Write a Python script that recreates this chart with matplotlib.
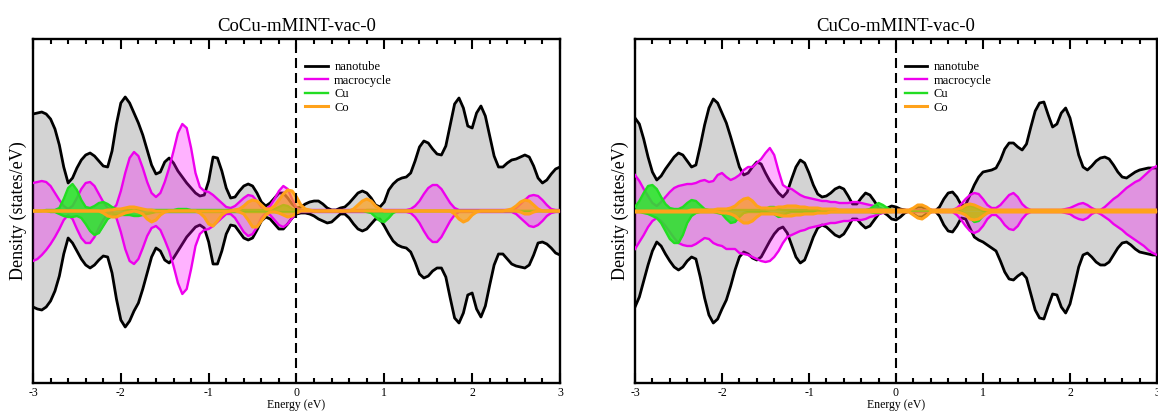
#python3 plot.py
#spin-resolved PDOS of the two mMINT complexes (up > 0, down < 0)

import numpy as np
import matplotlib
matplotlib.use('Agg')
import matplotlib.pyplot as plt

#===================== Data (0.05 eV grid) =====================
energy = [round(-3.0 + 0.05*i, 2) for i in range(121)]

titles = ["CoCu-mMINT-vac-0", "CuCo-mMINT-vac-0"]
labels = ["nanotube", "macrocycle", "Cu", "Co"]

# ---- CoCu ----
cocu_nt_up = [9.7, 9.8, 9.9, 9.7, 9.2, 8.2, 6.6, 4.4, 2.8, 3.3,
              4.3, 5.1, 5.6, 5.8, 5.5, 5.0, 4.5, 4.4, 6.0, 8.7,
              10.8, 11.4, 10.8, 9.8, 8.8, 7.6, 6.1, 4.6, 3.7, 3.9,
              4.9, 5.3, 4.8, 4.0, 3.4, 2.8, 2.3, 1.8, 1.5, 1.6,
              3.0, 5.4, 5.3, 4.0, 2.3, 1.3, 1.4, 2.0, 2.5, 2.7,
              2.5, 1.8, 0.9, 0.5, 0.8, 1.3, 1.8, 1.8, 1.3, 0.7,
              0.3, 0.4, 0.7, 0.9, 1.0, 1.0, 0.7, 0.3, 0.1, 0.1,
              0.3, 0.4, 0.8, 1.3, 1.8, 2.0, 1.8, 1.3, 0.6, 0.4,
              0.9, 2.1, 2.7, 3.1, 3.3, 3.4, 3.8, 5.0, 6.4, 7.0,
              6.8, 6.2, 5.7, 5.6, 6.5, 8.6, 10.7, 11.3, 10.3, 8.5,
              8.3, 9.8, 10.5, 9.5, 7.5, 5.5, 4.4, 4.4, 4.8, 5.1,
              5.2, 5.4, 5.6, 5.4, 4.5, 3.3, 2.8, 3.1, 3.7, 4.2,
              4.4]
cocu_nt_dn = [-9.6, -9.8, -9.9, -9.6, -9.0, -8.0, -6.5, -4.3, -2.7, -3.2,
              -4.0, -4.8, -5.4, -5.7, -5.4, -4.9, -4.5, -4.6, -6.2, -8.8,
              -10.9, -11.6, -11.0, -10.0, -9.2, -7.8, -6.2, -4.6, -3.7, -4.0,
              -4.9, -5.2, -4.7, -4.0, -3.3, -2.6, -2.1, -1.6, -1.4, -1.7,
              -3.1, -5.3, -5.3, -4.0, -2.3, -1.4, -1.5, -2.1, -2.7, -2.9,
              -2.7, -1.9, -1.0, -0.6, -0.8, -1.3, -1.8, -1.8, -1.3, -0.7,
              -0.3, -0.2, -0.2, -0.3, -0.5, -0.8, -1.0, -1.2, -1.1, -0.7,
              -0.3, -0.3, -0.7, -1.3, -1.8, -2.0, -1.8, -1.3, -0.8, -0.8,
              -1.5, -2.3, -3.0, -3.4, -3.6, -3.7, -4.1, -5.1, -6.3, -6.7,
              -6.5, -6.0, -5.7, -5.7, -6.6, -8.7, -10.7, -11.2, -10.2, -8.4,
              -8.2, -9.8, -10.6, -9.5, -7.4, -5.4, -4.3, -4.3, -4.8, -5.3,
              -5.5, -5.6, -5.7, -5.4, -4.4, -3.2, -3.1, -3.3, -3.7, -4.2,
              -4.4]
cocu_mac_up = [2.8, 2.9, 3.0, 2.9, 2.5, 1.8, 1.1, 0.5, 0.2, 0.5,
               1.3, 2.2, 2.8, 2.9, 2.5, 1.7, 0.9, 0.3, 0.1, 0.6,
               2.0, 3.8, 5.3, 5.9, 5.5, 4.3, 2.9, 1.8, 1.4, 1.8,
               2.9, 4.3, 6.0, 7.8, 8.7, 8.3, 6.3, 3.8, 2.4, 2.0,
               1.9, 1.6, 1.2, 0.8, 0.4, 0.3, 0.5, 0.9, 1.3, 1.6,
               1.5, 1.0, 0.4, 0.2, 0.5, 1.2, 2.0, 2.5, 2.2, 1.2,
               0.3, 0.1, 0.1, 0.1, 0.1, 0.1, 0.1, 0.1, 0.1, 0.1,
               0.1, 0.1, 0.1, 0.1, 0.1, 0.1, 0.1, 0.1, 0.1, 0.1,
               0.1, 0.1, 0.1, 0.1, 0.1, 0.1, 0.2, 0.5, 1.0, 1.7,
               2.3, 2.6, 2.6, 2.2, 1.5, 0.8, 0.3, 0.1, 0.1, 0.1,
               0.1, 0.1, 0.1, 0.1, 0.1, 0.1, 0.1, 0.1, 0.1, 0.1,
               0.3, 0.7, 1.1, 1.5, 1.6, 1.5, 1.1, 0.6, 0.2, 0.1,
               0.1]
cocu_mac_dn = [-5.0, -4.8, -4.4, -3.9, -3.3, -2.6, -1.8, -0.9, -0.4, -0.8,
               -1.8, -2.7, -3.2, -3.2, -2.6, -1.7, -0.9, -0.3, -0.1, -0.7,
               -2.1, -3.8, -5.0, -5.3, -4.8, -3.7, -2.5, -1.7, -1.5, -1.9,
               -2.9, -4.0, -5.5, -7.2, -8.3, -7.8, -5.8, -3.5, -2.3, -1.9,
               -1.8, -1.5, -1.1, -0.7, -0.3, -0.3, -0.7, -1.4, -2.1, -2.5,
               -2.3, -1.6, -0.7, -0.2, -0.4, -0.9, -1.4, -1.6, -1.3, -0.7,
               -0.2, -0.1, -0.1, -0.1, -0.1, -0.1, -0.1, -0.1, -0.1, -0.1,
               -0.1, -0.1, -0.1, -0.1, -0.1, -0.1, -0.1, -0.1, -0.1, -0.1,
               -0.1, -0.1, -0.1, -0.1, -0.1, -0.1, -0.2, -0.6, -1.2, -2.0,
               -2.7, -3.1, -3.1, -2.6, -1.8, -1.0, -0.4, -0.1, -0.1, -0.1,
               -0.1, -0.1, -0.1, -0.1, -0.1, -0.1, -0.1, -0.1, -0.1, -0.1,
               -0.3, -0.7, -1.1, -1.5, -1.6, -1.4, -1.0, -0.5, -0.2, -0.1,
               -0.1]
cocu_cu_up = [0.0, 0.0, 0.0, 0.1, 0.1, 0.1, 0.3, 1.2, 2.3, 2.7,
              2.1, 1.1, 0.4, 0.3, 0.5, 0.8, 0.9, 0.7, 0.4, 0.2,
              0.1, 0.1, 0.1, 0.1, 0.1, 0.1, 0.1, 0.1, 0.1, 0.1,
              0.1, 0.1, 0.1, 0.2, 0.2, 0.2, 0.1, 0.1, 0.1, 0.1,
              0.1, 0.1, 0.1, 0.1, 0.1, 0.1, 0.1, 0.1, 0.1, 0.1,
              0.1, 0.1, 0.1, 0.1, 0.1, 0.2, 0.4, 0.6, 0.5, 0.2,
              0.1, 0.0, 0.0, 0.0, 0.0, 0.0, 0.0, 0.0, 0.0, 0.0,
              0.0, 0.0, 0.0, 0.0, 0.0, 0.0, 0.1, 0.1, 0.1, 0.0,
              0.0, 0.0, 0.0, 0.0, 0.0, 0.0, 0.0, 0.0, 0.0, 0.0,
              0.0, 0.0, 0.0, 0.0, 0.0, 0.0, 0.0, 0.0, 0.0, 0.0,
              0.0, 0.0, 0.0, 0.0, 0.0, 0.0, 0.0, 0.0, 0.0, 0.0,
              0.0, 0.0, 0.0, 0.0, 0.0, 0.0, 0.0, 0.0, 0.0, 0.0,
              0.0]
cocu_cu_dn = [0.0, 0.0, 0.0, 0.0, -0.1, -0.1, -0.3, -0.5, -0.6, -0.6,
              -0.5, -0.7, -1.3, -2.0, -2.4, -2.2, -1.5, -0.8, -0.5, -0.4,
              -0.4, -0.4, -0.4, -0.5, -0.5, -0.4, -0.3, -0.2, -0.1, -0.1,
              -0.1, -0.1, -0.1, -0.1, -0.1, -0.1, -0.1, -0.1, -0.1, -0.1,
              -0.1, -0.1, -0.1, -0.1, -0.1, -0.1, -0.1, -0.1, -0.1, -0.1,
              -0.1, -0.1, -0.1, -0.1, -0.1, -0.1, -0.1, -0.1, -0.1, -0.1,
              -0.1, 0.0, 0.0, 0.0, 0.0, 0.0, 0.0, 0.0, 0.0, 0.0,
              0.0, 0.0, 0.0, 0.0, 0.0, 0.0, -0.1, -0.2, -0.6, -1.0,
              -1.1, -0.7, -0.2, 0.0, 0.0, 0.0, 0.0, 0.0, 0.0, 0.0,
              0.0, 0.0, 0.0, 0.0, 0.0, 0.0, 0.0, 0.0, 0.0, 0.0,
              0.0, 0.0, 0.0, 0.0, 0.0, 0.0, 0.0, 0.0, 0.0, 0.0,
              0.0, 0.0, 0.0, 0.0, 0.0, 0.0, 0.0, 0.0, 0.0, 0.0,
              0.0]
cocu_co_up = [0.0, 0.0, 0.0, 0.0, 0.0, 0.0, 0.0, 0.0, 0.0, 0.0,
              0.0, 0.0, 0.0, 0.0, 0.0, 0.0, 0.0, 0.1, 0.1, 0.2,
              0.2, 0.3, 0.4, 0.4, 0.3, 0.2, 0.1, 0.1, 0.0, 0.0,
              0.0, 0.0, 0.0, 0.0, 0.0, 0.0, 0.0, 0.0, 0.0, 0.0,
              0.0, 0.0, 0.0, 0.0, 0.0, 0.0, 0.1, 0.2, 0.5, 0.9,
              1.1, 1.0, 0.6, 0.2, 0.2, 0.5, 1.1, 1.7, 2.1, 2.0,
              1.4, 0.6, 0.2, 0.1, 0.0, 0.0, 0.0, 0.0, 0.0, 0.0,
              0.0, 0.0, 0.0, 0.2, 0.6, 1.0, 1.2, 1.0, 0.5, 0.2,
              0.0, 0.0, 0.0, 0.0, 0.0, 0.0, 0.0, 0.0, 0.0, 0.0,
              0.0, 0.0, 0.0, 0.0, 0.0, 0.0, 0.0, 0.0, 0.0, 0.0,
              0.0, 0.0, 0.0, 0.0, 0.0, 0.0, 0.0, 0.0, 0.1, 0.2,
              0.5, 0.9, 1.1, 1.0, 0.6, 0.2, 0.0, 0.0, 0.0, 0.0,
              0.0]
cocu_co_dn = [0.0, 0.0, 0.0, 0.0, 0.0, 0.0, 0.0, 0.0, 0.0, 0.0,
              0.0, 0.0, 0.0, 0.0, 0.0, 0.0, -0.2, -0.5, -0.6, -0.6,
              -0.4, -0.2, -0.1, 0.0, -0.1, -0.3, -0.8, -1.1, -0.9, -0.4,
              -0.1, 0.0, 0.0, 0.0, 0.0, 0.0, 0.0, 0.0, -0.2, -0.6,
              -1.3, -1.5, -1.0, -0.4, -0.1, 0.0, 0.0, -0.1, -0.3, -0.9,
              -1.6, -1.6, -1.0, -0.4, -0.1, -0.1, -0.2, -0.4, -0.6, -0.5,
              -0.2, 0.0, 0.0, 0.0, 0.0, 0.0, 0.0, 0.0, 0.0, 0.0,
              0.0, 0.0, 0.0, 0.0, 0.0, 0.0, 0.0, 0.0, 0.0, 0.0,
              0.0, 0.0, 0.0, 0.0, 0.0, 0.0, 0.0, 0.0, 0.0, 0.0,
              0.0, 0.0, 0.0, 0.0, 0.0, 0.0, -0.3, -0.8, -1.1, -0.9,
              -0.4, -0.1, 0.0, 0.0, 0.0, 0.0, 0.0, 0.0, 0.0, 0.0,
              0.0, -0.1, -0.3, -0.3, -0.1, 0.0, 0.0, 0.0, 0.0, 0.0,
              0.0]

# ---- CuCo ----
cuco_nt_up = [9.3, 8.7, 7.2, 5.4, 3.9, 3.1, 3.5, 4.2, 4.8, 5.4,
              5.8, 5.6, 5.0, 4.4, 4.6, 6.5, 8.6, 10.3, 11.2, 10.8,
              9.8, 8.8, 7.4, 5.9, 4.4, 3.6, 3.8, 4.4, 4.9, 4.7,
              3.8, 3.0, 2.4, 1.8, 1.4, 1.9, 3.2, 4.4, 5.1, 4.8,
              3.8, 2.6, 1.7, 1.4, 1.5, 1.8, 2.2, 2.4, 2.2, 1.5,
              0.7, 0.7, 1.3, 1.8, 1.6, 1.0, 0.3, 0.1, 0.3, 0.5,
              0.4, 0.2, 0.1, 0.0, 0.2, 0.4, 0.4, 0.2, 0.1, 0.0,
              0.4, 1.2, 1.8, 1.9, 1.4, 0.6, 0.6, 1.6, 2.6, 3.4,
              3.9, 4.0, 4.1, 4.3, 5.1, 6.2, 6.8, 6.8, 6.4, 6.1,
              6.7, 8.4, 10.0, 10.8, 10.9, 9.6, 8.4, 8.7, 9.8, 10.3,
              9.3, 7.5, 5.6, 4.4, 4.1, 4.5, 5.0, 5.3, 5.4, 5.2,
              4.6, 3.9, 3.4, 3.3, 3.6, 3.9, 4.1, 4.2, 4.3, 4.3,
              4.3]
cuco_nt_dn = [-9.6, -8.6, -7.0, -5.4, -4.0, -3.1, -3.5, -4.3, -5.0, -5.6,
              -5.9, -5.6, -5.0, -4.6, -4.8, -6.6, -8.7, -10.4, -11.2, -10.8,
              -9.8, -8.9, -7.5, -5.9, -4.6, -4.1, -4.3, -4.7, -4.9, -4.6,
              -3.8, -3.0, -2.3, -1.8, -1.6, -2.2, -3.4, -4.6, -5.2, -4.9,
              -3.8, -2.6, -1.7, -1.4, -1.6, -2.0, -2.4, -2.6, -2.3, -1.6,
              -0.8, -0.8, -1.3, -1.7, -1.5, -0.9, -0.3, -0.1, -0.4, -0.8,
              -0.9, -0.6, -0.2, 0.0, -0.3, -0.6, -0.6, -0.3, -0.1, 0.0,
              -0.5, -1.4, -2.0, -2.1, -1.5, -0.7, -0.8, -1.7, -2.6, -2.9,
              -3.1, -3.4, -3.7, -4.0, -5.0, -6.1, -6.8, -6.9, -6.5, -6.2,
              -6.7, -8.3, -9.9, -10.7, -10.8, -9.5, -8.3, -8.4, -9.6, -10.2,
              -9.3, -7.5, -5.6, -4.4, -4.2, -4.6, -5.1, -5.4, -5.4, -5.1,
              -4.4, -3.7, -3.2, -3.1, -3.4, -3.8, -4.1, -4.2, -4.3, -4.4,
              -4.4]
cuco_mac_up = [3.6, 3.0, 2.2, 1.5, 0.8, 0.5, 0.9, 1.4, 1.9, 2.3,
               2.5, 2.6, 2.7, 2.7, 2.8, 3.0, 3.1, 2.9, 3.0, 3.6,
               3.8, 3.4, 3.1, 3.3, 3.6, 4.1, 4.4, 4.4, 4.8, 5.2,
               5.8, 6.3, 5.6, 4.0, 2.6, 2.3, 2.2, 1.9, 1.6, 1.4,
               1.3, 1.2, 1.1, 1.0, 1.0, 0.9, 0.9, 0.8, 0.8, 0.8,
               0.9, 0.9, 0.8, 0.7, 0.6, 0.5, 0.3, 0.2, 0.1, 0.1,
               0.1, 0.1, 0.1, 0.1, 0.1, 0.1, 0.1, 0.1, 0.1, 0.1,
               0.1, 0.1, 0.1, 0.1, 0.3, 0.7, 1.2, 1.6, 1.8, 1.7,
               1.2, 0.6, 0.3, 0.3, 0.6, 1.1, 1.6, 1.8, 1.4, 0.7,
               0.3, 0.1, 0.1, 0.1, 0.1, 0.1, 0.1, 0.1, 0.1, 0.2,
               0.3, 0.5, 0.7, 0.8, 0.6, 0.3, 0.1, 0.1, 0.4, 0.8,
               1.2, 1.5, 1.9, 2.3, 2.6, 2.9, 3.1, 3.5, 3.9, 4.3,
               4.5]
cuco_mac_dn = [-3.8, -3.1, -2.4, -1.6, -1.0, -0.7, -1.0, -1.5, -2.1, -2.7,
               -3.2, -3.4, -3.5, -3.5, -3.3, -3.0, -2.7, -2.8, -3.2, -3.4,
               -3.5, -3.8, -3.8, -3.8, -4.2, -4.3, -4.4, -4.6, -4.8, -5.0,
               -5.1, -5.0, -4.6, -4.0, -3.2, -2.6, -2.4, -2.2, -2.0, -1.9,
               -1.7, -1.6, -1.5, -1.4, -1.3, -1.2, -1.2, -1.1, -1.0, -1.0,
               -0.9, -0.9, -0.9, -0.8, -0.6, -0.5, -0.3, -0.2, -0.1, -0.1,
               -0.1, -0.1, -0.1, -0.1, -0.1, -0.1, -0.1, -0.1, -0.1, -0.1,
               -0.1, -0.1, -0.1, -0.1, -0.4, -0.9, -1.5, -2.0, -2.2, -2.0,
               -1.5, -0.8, -0.4, -0.4, -0.8, -1.4, -1.8, -1.9, -1.5, -0.8,
               -0.3, -0.1, -0.1, -0.1, -0.1, -0.1, -0.1, -0.1, -0.1, -0.2,
               -0.3, -0.6, -0.8, -0.9, -0.7, -0.3, -0.1, -0.3, -0.6, -0.9,
               -1.3, -1.6, -1.9, -2.3, -2.6, -2.9, -3.2, -3.5, -3.9, -4.2,
               -4.4]
cuco_cu_up = [0.4, 1.0, 1.8, 2.5, 2.6, 2.2, 1.4, 0.7, 0.3, 0.2,
              0.2, 0.4, 0.8, 1.1, 1.0, 0.6, 0.2, 0.1, 0.1, 0.1,
              0.1, 0.1, 0.1, 0.1, 0.1, 0.1, 0.1, 0.1, 0.1, 0.1,
              0.2, 0.4, 0.4, 0.2, 0.1, 0.1, 0.1, 0.1, 0.1, 0.1,
              0.1, 0.1, 0.1, 0.1, 0.1, 0.1, 0.1, 0.1, 0.1, 0.1,
              0.1, 0.1, 0.1, 0.1, 0.2, 0.5, 0.8, 0.6, 0.3, 0.1,
              0.1, 0.0, 0.0, 0.0, 0.0, 0.0, 0.0, 0.0, 0.0, 0.0,
              0.0, 0.0, 0.0, 0.0, 0.0, 0.2, 0.4, 0.5, 0.4, 0.2,
              0.0, 0.0, 0.0, 0.0, 0.0, 0.0, 0.0, 0.0, 0.0, 0.0,
              0.0, 0.0, 0.0, 0.0, 0.0, 0.0, 0.0, 0.0, 0.0, 0.0,
              0.0, 0.0, 0.0, 0.0, 0.0, 0.0, 0.0, 0.0, 0.0, 0.0,
              0.0, 0.0, 0.0, 0.0, 0.0, 0.0, 0.0, 0.0, 0.0, 0.0,
              0.0]
cuco_cu_dn = [-0.1, -0.1, -0.2, -0.3, -0.5, -0.7, -1.2, -2.0, -2.8, -3.2,
              -3.2, -2.4, -1.2, -0.5, -0.2, -0.1, -0.1, -0.1, -0.1, -0.2,
              -0.3, -0.8, -1.2, -1.1, -0.6, -0.2, -0.1, -0.1, -0.1, -0.1,
              -0.1, -0.2, -0.3, -0.6, -0.5, -0.2, -0.1, -0.1, -0.1, -0.1,
              -0.1, -0.1, -0.1, -0.1, -0.1, -0.1, -0.1, -0.1, -0.1, -0.1,
              -0.1, -0.1, -0.1, -0.1, -0.1, -0.2, -0.2, -0.1, -0.1, -0.1,
              0.0, 0.0, 0.0, 0.0, 0.0, 0.0, 0.0, 0.0, 0.0, 0.0,
              0.0, 0.0, 0.0, 0.0, 0.0, -0.1, -0.3, -0.7, -1.1, -1.0,
              -0.5, -0.1, 0.0, 0.0, 0.0, 0.0, 0.0, 0.0, 0.0, 0.0,
              0.0, 0.0, 0.0, 0.0, 0.0, 0.0, 0.0, 0.0, 0.0, 0.0,
              0.0, 0.0, 0.0, 0.0, 0.0, 0.0, 0.0, 0.0, 0.0, 0.0,
              0.0, 0.0, 0.0, 0.0, 0.0, 0.0, 0.0, 0.0, 0.0, 0.0,
              0.0]
cuco_co_up = [0.0, 0.0, 0.0, 0.0, 0.0, 0.0, 0.0, 0.0, 0.0, 0.0,
              0.0, 0.0, 0.0, 0.1, 0.1, 0.1, 0.1, 0.1, 0.1, 0.2,
              0.2, 0.2, 0.3, 0.5, 0.9, 1.2, 1.3, 1.0, 0.5, 0.3,
              0.3, 0.3, 0.3, 0.4, 0.4, 0.5, 0.5, 0.5, 0.4, 0.4,
              0.3, 0.3, 0.3, 0.2, 0.2, 0.2, 0.2, 0.1, 0.1, 0.1,
              0.1, 0.1, 0.1, 0.1, 0.1, 0.1, 0.1, 0.1, 0.1, 0.1,
              0.1, 0.1, 0.1, 0.1, 0.3, 0.6, 0.6, 0.4, 0.1, 0.1,
              0.1, 0.1, 0.1, 0.1, 0.2, 0.3, 0.6, 0.7, 0.6, 0.4,
              0.2, 0.1, 0.1, 0.1, 0.1, 0.1, 0.1, 0.1, 0.1, 0.1,
              0.1, 0.1, 0.1, 0.1, 0.1, 0.1, 0.1, 0.1, 0.1, 0.1,
              0.1, 0.1, 0.1, 0.1, 0.1, 0.1, 0.1, 0.1, 0.1, 0.1,
              0.1, 0.1, 0.1, 0.1, 0.1, 0.1, 0.1, 0.1, 0.1, 0.1,
              0.1]
cuco_co_dn = [-0.1, -0.1, -0.1, -0.1, -0.1, -0.1, -0.1, -0.1, -0.1, -0.1,
              -0.1, -0.1, -0.1, -0.1, -0.1, -0.1, -0.1, -0.1, -0.1, -0.1,
              -0.2, -0.2, -0.3, -0.5, -0.9, -1.2, -1.2, -1.0, -0.6, -0.3,
              -0.3, -0.3, -0.3, -0.4, -0.5, -0.5, -0.5, -0.4, -0.4, -0.3,
              -0.3, -0.3, -0.2, -0.2, -0.2, -0.1, -0.1, -0.1, -0.1, -0.1,
              -0.1, -0.1, -0.1, -0.1, -0.1, -0.1, -0.1, -0.1, -0.1, -0.1,
              -0.1, -0.1, -0.1, -0.1, -0.4, -0.7, -0.8, -0.5, -0.1, -0.1,
              -0.1, -0.1, -0.1, -0.1, -0.1, -0.2, -0.4, -0.8, -0.9, -0.8,
              -0.5, -0.2, -0.1, -0.1, -0.1, -0.1, -0.1, -0.1, -0.1, -0.1,
              -0.1, -0.1, -0.1, -0.1, -0.1, -0.1, -0.1, -0.1, -0.1, -0.1,
              -0.1, -0.1, -0.1, -0.1, -0.1, -0.1, -0.1, -0.1, -0.1, -0.1,
              -0.1, -0.1, -0.1, -0.1, -0.1, -0.1, -0.1, -0.1, -0.1, -0.1,
              -0.1]

#===================== Plot =====================
plt.rcParams['font.family'] = ['Liberation Serif', 'DejaVu Serif']
plt.rcParams['axes.unicode_minus'] = False

line_col = ['black', '#ee00ee', '#22dd22', '#ffa21a']
fill_col = ['#d3d3d3', (1.0, 0.0, 1.0, 0.3), (0.15, 0.9, 0.15, 0.85), (1.0, 0.63, 0.1, 0.7)]
line_w = [2.0, 1.7, 1.7, 2.2]

panels = [
    [(cocu_nt_up, cocu_nt_dn), (cocu_mac_up, cocu_mac_dn), (cocu_cu_up, cocu_cu_dn), (cocu_co_up, cocu_co_dn)],
    [(cuco_nt_up, cuco_nt_dn), (cuco_mac_up, cuco_mac_dn), (cuco_cu_up, cuco_cu_dn), (cuco_co_up, cuco_co_dn)],
]
# axes boxes in figure fraction (left, bottom, width, height)
boxes = [[33/1158, 29/412, 527/1158, 344/412],
         [635/1158, 29/412, 522/1158, 344/412]]

fig = plt.figure(figsize=(11.58, 4.12), dpi=100)
E = np.array(energy)
for p in range(2):
    ax = fig.add_axes(boxes[p])
    handles = []
    for k in range(4):
        up = np.array(panels[p][k][0])
        dn = np.array(panels[p][k][1])
        ax.fill_between(E, 0, up, color=fill_col[k], lw=0, zorder=2*k+1)
        ax.fill_between(E, 0, dn, color=fill_col[k], lw=0, zorder=2*k+1)
        h, = ax.plot(E, up, color=line_col[k], lw=line_w[k], zorder=2*k+2, label=labels[k])
        ax.plot(E, dn, color=line_col[k], lw=line_w[k], zorder=2*k+2)
        handles.append(h)
    ax.axvline(0, color='black', lw=1.5, ls=(0, (4.8, 2.4)), zorder=10)

    ax.set_xlim(-3, 3)
    ax.set_ylim(-17.2, 17.2)
    ax.set_xticks([-3, -2, -1, 0, 1, 2, 3])
    ax.set_xticks(np.arange(-3, 3.01, 0.2), minor=True)
    ax.set_yticks([])
    ax.tick_params(axis='x', which='both', direction='in', top=True, bottom=True,
                   width=1.5, labelsize=8.5, pad=3)
    ax.tick_params(axis='x', which='major', length=7)
    ax.tick_params(axis='x', which='minor', length=3.6)
    for s in ax.spines.values():
        s.set_linewidth(1.7)

    ax.set_title(titles[p], fontsize=13.5, pad=6)
    ax.set_xlabel('Energy (eV)', fontsize=8.5, labelpad=0)
    ax.set_ylabel('Density (states/eV)', fontsize=13, labelpad=4)

    ax.legend(handles=handles, loc='upper left', bbox_to_anchor=(0.517, 0.935),
              frameon=False, fontsize=9, handlelength=1.8, handletextpad=0.5,
              labelspacing=0.12, borderaxespad=0, borderpad=0)

plt.savefig('out.png', dpi=100)
plt.close()
